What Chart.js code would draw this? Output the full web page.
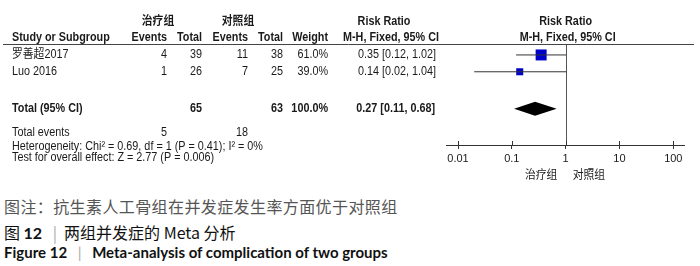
<!DOCTYPE html>
<html>
<head>
<meta charset="utf-8">
<script src="https://cdn.jsdelivr.net/npm/chart.js@4.4.0/dist/chart.umd.min.js"></script>
<style>
  body { margin: 0; background: #fff; width: 700px; height: 266px; position: relative; overflow: hidden; }
  #forest { position: absolute; left: 0; top: 0; }
  .cap { position: absolute; left: 4px; white-space: nowrap; line-height: 1; }
  .c1 { top: 194px; font: 16px "Noto Sans CJK SC", sans-serif; color: #555; letter-spacing: 0.4px; }
  .c2 { top: 220px; font: 16px "Noto Sans CJK SC", sans-serif; color: #111; }
  .c2 b { font-family: Lato, "Noto Sans", sans-serif; }
  .c3 { top: 243px; font: bold 15px Lato, "Noto Sans", sans-serif; color: #111; }
  .bar { color: #aaa; font-weight: normal; padding: 0 7px; }
</style>
</head>
<body>
<canvas id="forest" width="700" height="190"></canvas>
<div class="cap c1">图注：抗生素人工骨组在并发症发生率方面优于对照组</div>
<div class="cap c2">图 <b>12</b> <span class="bar">|</span>两组并发症的 Meta 分析</div>
<div class="cap c3">Figure 12 <span class="bar">|</span> Meta-analysis of complication of two groups</div>
<script>
// Daten aus der Abbildung
const studies = ['罗善超2017', 'Luo 2016'];
const treatEvents = [4, 1];
const treatTotal = [39, 26];
const ctrlEvents = [11, 7];
const ctrlTotal = [38, 25];
const weights = [61.0, 39.0];
const riskRatio = [0.35, 0.14];
const ciLow = [0.12, 0.02];
const ciHigh = [1.02, 1.04];

const pooledRR = 0.27, pooledLow = 0.11, pooledHigh = 0.68;
const totalTreat = 65, totalCtrl = 63;
const totalTreatEvents = 5, totalCtrlEvents = 18;
const heterogeneityText = 'Heterogeneity: Chi² = 0.69, df = 1 (P = 0.41); I² = 0%';
const overallText = 'Test for overall effect: Z = 2.77 (P = 0.006)';

const tickValues = [0.01, 0.1, 1, 10, 100];
const tickLabels = ['0.01', '0.1', '1', '10', '100'];
const favoursLeft = '治疗组', favoursRight = '对照组';

// Layout (Zeilen in y-Einheiten, Spalten in px)
const ROW = { head1: -1.3, head2: -0.35, study: [0.65, 1.65], total: 3.85, events: 5.25, het: 6.1, test: 6.75, favours: 7.85 };
const COL = { study: 12, ev1: 167, tot1: 202, ev2: 248, tot2: 283, weight: 328, rr: 436 };
const FONT = '"Liberation Sans", "Noto Sans CJK SC", sans-serif';
const fmt = v => v.toFixed(2);

function txt(ctx, s, x, y, align, bold) {
  ctx.save();
  ctx.font = (bold ? 'bold ' : '') + '12px ' + FONT;
  ctx.fillStyle = '#1a1a1a';
  ctx.textBaseline = 'middle';
  ctx.textAlign = align || 'left';
  ctx.translate(x, y);
  ctx.scale(0.9, 1);
  ctx.fillText(s, 0, 0);
  ctx.restore();
}

const forestPlugin = {
  id: 'forest',
  beforeDatasetsDraw(chart) {
    const { ctx, chartArea, scales: { x } } = chart;
    const x1 = Math.round(x.getPixelForValue(1)) + 0.5;
    ctx.save();
    ctx.strokeStyle = '#555';
    ctx.lineWidth = 1;
    ctx.beginPath();
    ctx.moveTo(x1, chartArea.top);
    ctx.lineTo(x1, chartArea.bottom);
    ctx.stroke();
    ctx.restore();
  },
  afterDraw(chart) {
    const { ctx, chartArea, scales: { x, y } } = chart;
    const Y = v => y.getPixelForValue(v);

    // Tick-Striche nach oben verlaengern
    ctx.save();
    ctx.strokeStyle = '#333';
    tickValues.forEach(v => {
      const px = Math.round(x.getPixelForValue(v)) + 0.5;
      ctx.beginPath();
      ctx.moveTo(px, chartArea.bottom - 4);
      ctx.lineTo(px, chartArea.bottom);
      ctx.stroke();
    });

    // Gesamteffekt als Raute
    const yd = Y(ROW.total), h = 7;
    ctx.fillStyle = '#000';
    ctx.beginPath();
    ctx.moveTo(x.getPixelForValue(pooledLow), yd);
    ctx.lineTo(x.getPixelForValue(pooledRR), yd - h);
    ctx.lineTo(x.getPixelForValue(pooledHigh), yd);
    ctx.lineTo(x.getPixelForValue(pooledRR), yd + h);
    ctx.closePath();
    ctx.fill();

    // Kopflinie
    ctx.strokeStyle = '#444';
    ctx.beginPath();
    ctx.moveTo(3, Math.round(chartArea.top) + 0.5);
    ctx.lineTo(694, Math.round(chartArea.top) + 0.5);
    ctx.stroke();
    ctx.restore();

    // Tabellenkopf
    const plotMid = x.getPixelForValue(1);
    txt(ctx, favoursLeft, 158, Y(ROW.head1), 'center', true);
    txt(ctx, favoursRight, 238, Y(ROW.head1), 'center', true);
    txt(ctx, 'Risk Ratio', 384, Y(ROW.head1), 'center', true);
    txt(ctx, 'Risk Ratio', plotMid, Y(ROW.head1), 'center', true);
    txt(ctx, 'Study or Subgroup', COL.study, Y(ROW.head2), 'left', true);
    txt(ctx, 'Events', COL.ev1, Y(ROW.head2), 'right', true);
    txt(ctx, 'Total', COL.tot1, Y(ROW.head2), 'right', true);
    txt(ctx, 'Events', COL.ev2, Y(ROW.head2), 'right', true);
    txt(ctx, 'Total', COL.tot2, Y(ROW.head2), 'right', true);
    txt(ctx, 'Weight', COL.weight, Y(ROW.head2), 'right', true);
    txt(ctx, 'M-H, Fixed, 95% CI', 391, Y(ROW.head2), 'center', true);
    txt(ctx, 'M-H, Fixed, 95% CI', plotMid + 2, Y(ROW.head2), 'center', true);

    // Studienzeilen
    studies.forEach((s, i) => {
      const yy = Y(ROW.study[i]);
      txt(ctx, s, COL.study, yy, 'left');
      txt(ctx, String(treatEvents[i]), COL.ev1, yy, 'right');
      txt(ctx, String(treatTotal[i]), COL.tot1, yy, 'right');
      txt(ctx, String(ctrlEvents[i]), COL.ev2, yy, 'right');
      txt(ctx, String(ctrlTotal[i]), COL.tot2, yy, 'right');
      txt(ctx, weights[i].toFixed(1) + '%', COL.weight, yy, 'right');
      txt(ctx, `${fmt(riskRatio[i])} [${fmt(ciLow[i])}, ${fmt(ciHigh[i])}]`, COL.rr, yy, 'right');
    });

    // Gesamt
    const yt = Y(ROW.total);
    txt(ctx, 'Total (95% CI)', COL.study, yt, 'left', true);
    txt(ctx, String(totalTreat), COL.tot1, yt, 'right', true);
    txt(ctx, String(totalCtrl), COL.tot2, yt, 'right', true);
    txt(ctx, weights.reduce((a, b) => a + b, 0).toFixed(1) + '%', COL.weight, yt, 'right', true);
    txt(ctx, `${fmt(pooledRR)} [${fmt(pooledLow)}, ${fmt(pooledHigh)}]`, COL.rr - 1, yt, 'right', true);

    txt(ctx, 'Total events', COL.study, Y(ROW.events), 'left');
    txt(ctx, String(totalTreatEvents), COL.ev1, Y(ROW.events), 'right');
    txt(ctx, String(totalCtrlEvents), COL.ev2, Y(ROW.events), 'right');
    txt(ctx, heterogeneityText, COL.study, Y(ROW.het), 'left');
    txt(ctx, overallText, COL.study, Y(ROW.test), 'left');

    // Favours-Beschriftung
    txt(ctx, favoursLeft, x.getPixelForValue(0.35), Y(ROW.favours), 'center');
    txt(ctx, favoursRight, x.getPixelForValue(2.7), Y(ROW.favours), 'center');
  }
};

const ciDatasets = studies.map((s, i) => ({
  type: 'line',
  data: [{ x: ciLow[i], y: ROW.study[i] }, { x: ciHigh[i], y: ROW.study[i] }],
  borderColor: '#333',
  borderWidth: 1,
  pointRadius: 0,
  clip: false
}));

new Chart(document.getElementById('forest'), {
  type: 'scatter',
  data: {
    datasets: [
      ...ciDatasets,
      {
        type: 'scatter',
        data: riskRatio.map((v, i) => ({ x: v, y: ROW.study[i] })),
        pointStyle: 'rect',
        pointRadius: weights.map(w => (w * 0.18) / Math.SQRT2),
        backgroundColor: '#0000c8',
        borderColor: '#0000c8',
        borderWidth: 0,
        clip: false
      }
    ]
  },
  options: {
    responsive: false,
    animation: false,
    events: [],
    layout: { padding: { left: 446, right: 16, top: 44, bottom: 0 } },
    plugins: { legend: { display: false }, tooltip: { enabled: false } },
    scales: {
      x: {
        type: 'logarithmic',
        min: 0.00598,
        max: 158,
        bounds: 'data',
        afterBuildTicks: s => { s.ticks = tickValues.map(v => ({ value: v })); },
        afterFit: s => { s.height = 45; },
        border: { display: true, color: '#333', width: 1 },
        grid: { drawOnChartArea: false, drawTicks: true, tickLength: 4, color: '#333' },
        ticks: {
          autoSkip: false, maxRotation: 0, padding: 3, color: '#1a1a1a',
          font: { family: FONT, size: 11 },
          callback: (v, i) => tickLabels[i]
        }
      },
      y: { type: 'linear', display: false, min: 0, max: 6, reverse: true }
    }
  },
  plugins: [forestPlugin]
});
</script>
</body>
</html>
